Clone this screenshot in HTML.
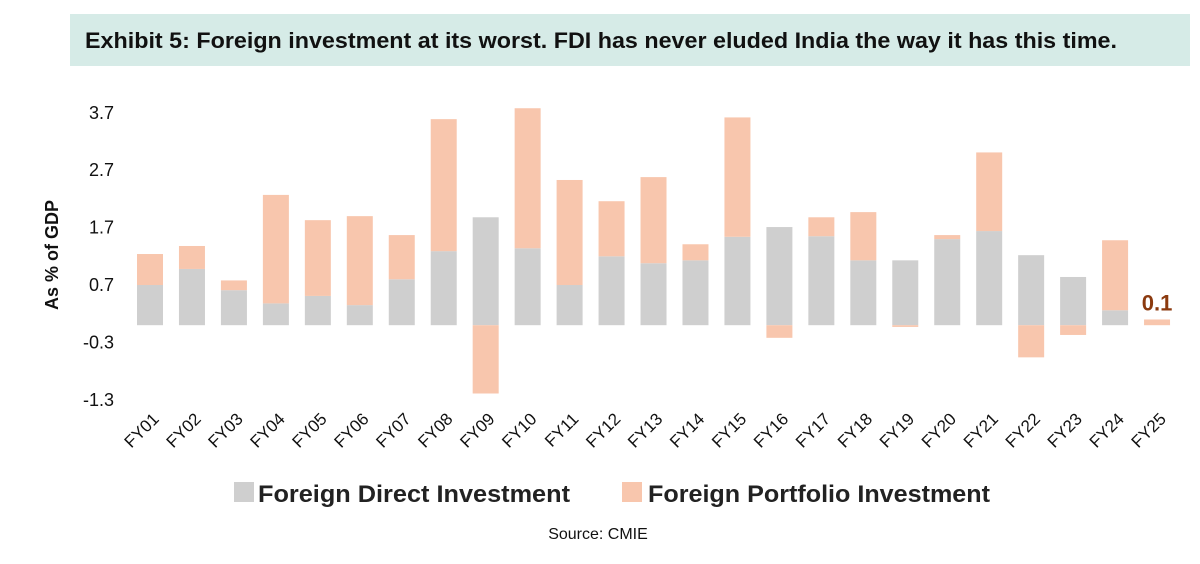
<!DOCTYPE html>
<html><head><meta charset="utf-8"><style>
body{margin:0;background:#fff;width:1200px;height:559px;overflow:hidden;font-family:"Liberation Sans",sans-serif}
</style></head><body>
<svg width="1200" height="559" id="svg" xmlns="http://www.w3.org/2000/svg">
<rect x="70" y="14" width="1120" height="52" fill="#d6ebe7"/>
<text x="85" y="48" textLength="1032" lengthAdjust="spacingAndGlyphs" font-size="22" font-weight="bold" fill="#111">Exhibit 5: Foreign investment at its worst. FDI has never eluded India the way it has this time.</text>
<text transform="translate(58,255) rotate(-90)" text-anchor="middle" font-size="18" font-weight="bold" fill="#111">As % of GDP</text>
<g id="ticks"></g><g id="bars"></g><g id="xl"></g>
<rect x="234" y="482" width="20" height="20" fill="#cfcfcf"/>
<text x="258" y="502" textLength="312" lengthAdjust="spacingAndGlyphs" font-size="24" font-weight="bold" fill="#222">Foreign Direct Investment</text>
<rect x="622" y="482" width="20" height="20" fill="#f8c6ad"/>
<text x="648" y="502" textLength="342" lengthAdjust="spacingAndGlyphs" font-size="24" font-weight="bold" fill="#222">Foreign Portfolio Investment</text>
<text x="598" y="539" text-anchor="middle" font-size="16" fill="#111">Source: CMIE</text>
</svg>
<script>
const categories=["FY01","FY02","FY03","FY04","FY05","FY06","FY07","FY08","FY09","FY10","FY11","FY12","FY13","FY14","FY15","FY16","FY17","FY18","FY19","FY20","FY21","FY22","FY23","FY24","FY25"];
const fdi=[0.70,0.98,0.61,0.38,0.51,0.35,0.80,1.29,1.88,1.34,0.70,1.20,1.08,1.13,1.54,1.71,1.55,1.13,1.13,1.50,1.64,1.22,0.84,0.26,0.0];
const fpi=[0.54,0.40,0.17,1.89,1.32,1.55,0.77,2.30,-1.19,2.44,1.83,0.96,1.50,0.28,2.08,-0.22,0.33,0.84,-0.03,0.07,1.37,-0.56,-0.17,1.22,0.1];
const yTicks=[3.7,2.7,1.7,0.7,-0.3,-1.3];
const NS="http://www.w3.org/2000/svg";
const y=v=>325.2-v*57.4;
const x=i=>150+i*41.96;
const bw=26;
function mk(t,a,p){const e=document.createElementNS(NS,t);for(const k in a)e.setAttribute(k,a[k]);p.appendChild(e);return e;}
const T=document.getElementById('ticks'),B=document.getElementById('bars'),X=document.getElementById('xl');
yTicks.forEach(v=>{const t=mk('text',{x:114,y:y(v)+6,'text-anchor':'end','font-size':18,fill:'#111'},T);t.textContent=v.toFixed(1);

});
categories.forEach((c,i)=>{
 const f=fdi[i],p=fpi[i];
 const r1=mk('rect',{x:x(i)-bw/2,y:Math.min(y(f),y(0)),width:bw,height:Math.abs(y(f)-y(0)),fill:'#cfcfcf'},B);
 
 
 let a,b;
 if(p>=0){a=y(Math.max(f,0)+p);b=y(Math.max(f,0));}else{a=y(0);b=y(p);}
 const r2=mk('rect',{x:x(i)-bw/2,y:a,width:bw,height:Math.abs(b-a),fill:'#f8c6ad'},B);
 
 
 const t=mk('text',{transform:`translate(${x(i)+10},${420}) rotate(-45)`,'text-anchor':'end','font-size':17,fill:'#111'},X);t.textContent=c;
 
 
});
const last=categories.length-1;
const lbl=mk('text',{x:x(last),y:y(fdi[last]+fpi[last])-9,'text-anchor':'middle','font-size':22,'font-weight':'bold',fill:'#8b3a0f'},B);
lbl.textContent=(fdi[last]+fpi[last]).toFixed(1);


</script>
</body></html>
